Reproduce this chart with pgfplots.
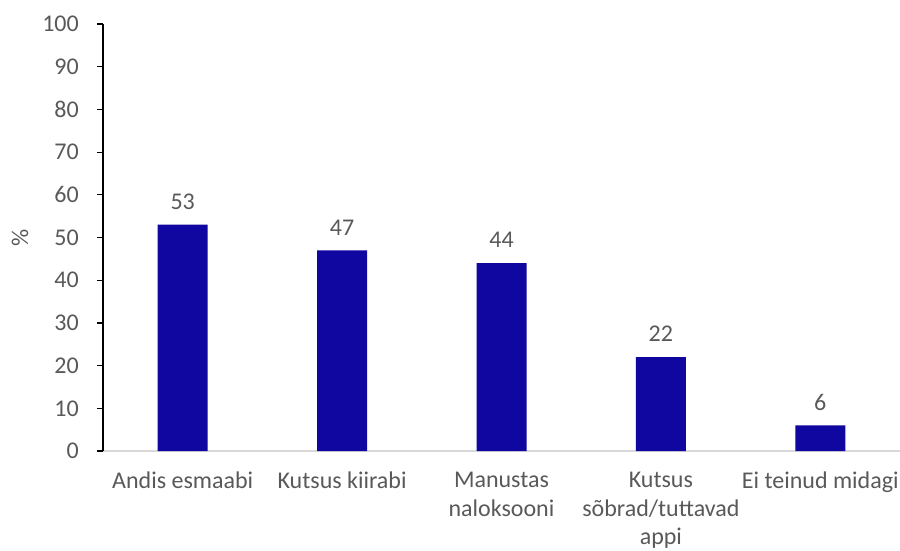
\documentclass[border=0pt]{standalone}
\usepackage{pgfplots}
\pgfplotsset{compat=1.18}
\usepackage{fontspec}
\setmainfont{Carlito}
\definecolor{barblue}{RGB}{16,6,160}
\definecolor{txtgray}{RGB}{89,89,89}
\definecolor{axgray}{RGB}{217,217,217}
\begin{document}
\fontsize{24}{29}\selectfont
\begin{tikzpicture}
\begin{axis}[
  scale only axis,
  width=797pt, height=427pt,
  xmin=-0.5, xmax=4.5,
  ymin=0, ymax=100,
  ytick={0,10,...,100},
  xtick=data,
  xticklabels={Andis esmaabi, Kutsus kiirabi, Manustas\\naloksooni, Kutsus\\sõbrad/tuttavad\\appi, Ei teinud midagi},
  axis x line=bottom, axis y line=left,
  axis line style={-},
  x axis line style={draw=axgray, line width=1.2pt},
  y axis line style={draw=black, line width=1.2pt},
  xtick style={draw=none},
  ytick style={draw=black, line width=1.2pt},
  tick align=outside,
  major tick length=6pt,
  ticklabel style={font=\fontsize{24}{28.5}\selectfont, text=txtgray},
  yticklabel style={xshift=-10pt},
  xticklabel style={align=center, yshift=-7pt},
  /pgf/number format/assume math mode=true,
  ylabel={\%},
  every axis y label/.style={at={(rel axis cs:-0.104,0.5)}, anchor=center, rotate=90, font=\fontsize{24}{29}\selectfont, text=txtgray},
  ybar, bar width=50pt,
  nodes near coords,
  every node near coord/.append style={font=\fontsize{24}{29}\selectfont, text=txtgray, yshift=7pt},
  clip=false,
]
\addplot[fill=barblue, draw=none] coordinates {(0,53) (1,47) (2,44) (3,22) (4,6)};
\end{axis}
\pgfresetboundingbox
\path[use as bounding box] (-103pt,-99pt) rectangle (797pt,451pt);
\end{tikzpicture}
\end{document}
